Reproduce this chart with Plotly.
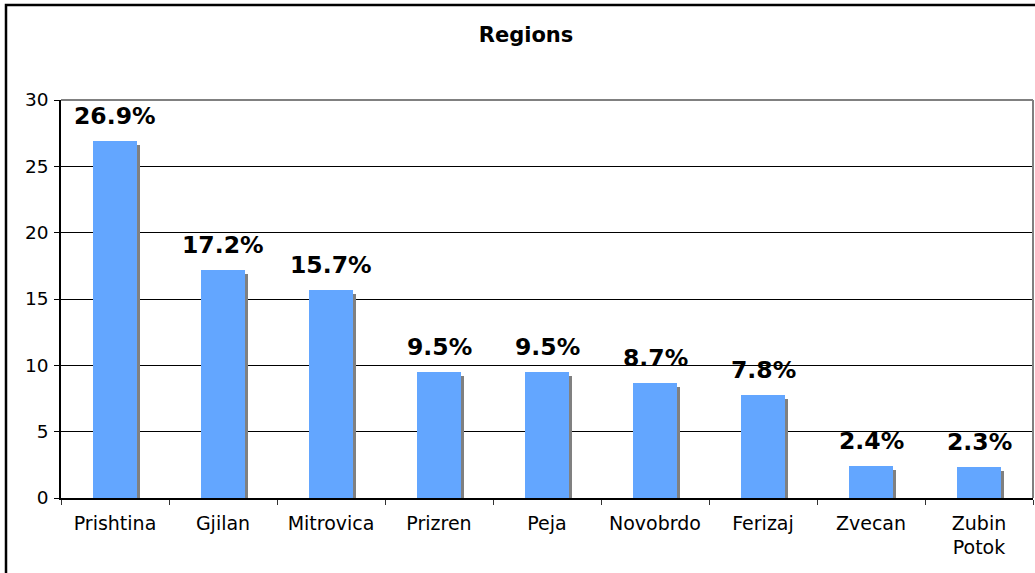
import plotly.graph_objects as go

categories = ["Prishtina", "Gjilan", "Mitrovica", "Prizren", "Peja",
              "Novobrdo", "Ferizaj", "Zvecan", "Zubin<br>Potok"]
values = [26.9, 17.2, 15.7, 9.5, 9.5, 8.7, 7.8, 2.4, 2.3]
labels = ["26.9%", "17.2%", "15.7%", "9.5%", "9.5%", "8.7%", "7.8%", "2.4%", "2.3%"]
y_ticks = [0, 5, 10, 15, 20, 25, 30]

FONT = "DejaVu Sans, Verdana, sans-serif"
BAR_W = 0.407
SHADOW_DROP = 0.3   # shadow top sits slightly below bar top (axis units)

fig = go.Figure()
# shadow
fig.add_trace(go.Bar(
    x=categories, y=[v - SHADOW_DROP for v in values],
    width=BAR_W, offset=-BAR_W / 2 + 0.028,
    marker=dict(color="#808080", line=dict(width=0)),
    hoverinfo="skip", showlegend=False))
# main bars
fig.add_trace(go.Bar(
    x=categories, y=values,
    width=BAR_W, offset=-BAR_W / 2,
    marker=dict(color="#63A6FF", line=dict(width=0)),
    showlegend=False))

for c, v, t in zip(categories, values, labels):
    fig.add_annotation(x=c, y=v, text=f"<b>{t}</b>", showarrow=False,
                       yanchor="middle", yshift=25,
                       font=dict(family=FONT, size=23.5, color="black"))

# outer chart border (extends past right/bottom edges)
fig.add_shape(type="rect", xref="paper", yref="paper",
              x0=-55 / 972, x1=1.2, y0=-0.5, y1=(498 - 5) / 398,
              line=dict(color="black", width=2.5), layer="below")
# gray top and right frame of plot area
fig.add_shape(type="line", xref="paper", yref="paper", x0=0, x1=1, y0=1, y1=1,
              line=dict(color="#808080", width=2))
fig.add_shape(type="line", xref="paper", yref="paper", x0=1, x1=1, y0=0, y1=1,
              line=dict(color="#808080", width=2))

fig.update_layout(
    width=1035, height=573,
    margin=dict(l=61, r=2, t=100, b=75),
    paper_bgcolor="white", plot_bgcolor="white",
    barmode="overlay", bargap=0,
    title=dict(text="<b>Regions</b>", x=526 / 1035, xanchor="center",
               y=1 - 35 / 573, yanchor="middle",
               font=dict(family=FONT, size=21, color="black")),
    font=dict(family=FONT, color="black"),
    xaxis=dict(type="category", showline=True, linecolor="black", linewidth=1.5,
               ticks="outside", tickson="boundaries", ticklen=5, tickcolor="#333",
               ticklabelstandoff=7,
               showgrid=False, tickfont=dict(family=FONT, size=19, color="black"),
               range=[-0.5, len(categories) - 0.5]),
    yaxis=dict(range=[0, 30], tickvals=y_ticks, showline=True, linecolor="black",
               linewidth=1.5, ticks="outside", ticklen=5, tickcolor="black",
               ticklabelstandoff=2,
               showgrid=True, gridcolor="black", gridwidth=1, zeroline=False,
               tickfont=dict(family=FONT, size=18.5, color="black")),
)

fig.write_html("out.html",
               config={"displayModeBar": False},
               post_script="document.body.style.margin='0';"
                           "document.body.style.overflow='hidden';")
